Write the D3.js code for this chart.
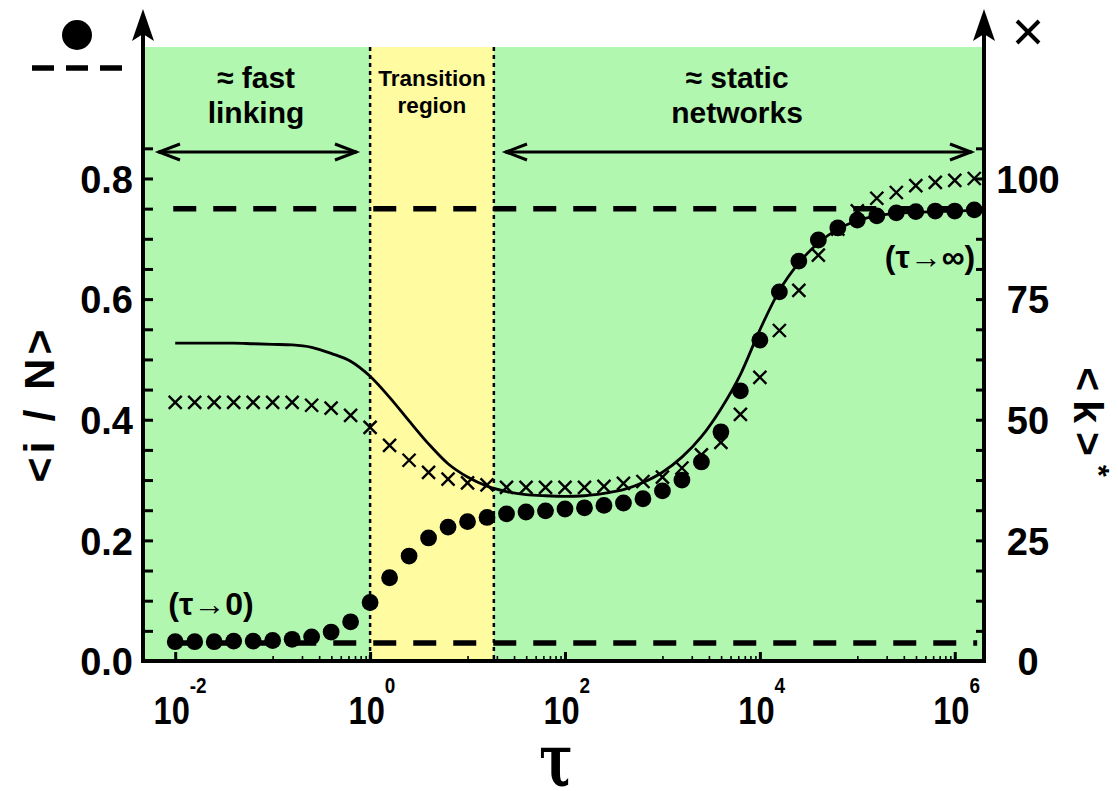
<!DOCTYPE html>
<html>
<head>
<meta charset="utf-8">
<script src="https://cdn.jsdelivr.net/npm/d3@7"></script>
<style>
body { margin: 0; background: #fff; }
text { font-family: "Liberation Sans", Arial, Helvetica, sans-serif; font-weight: bold; fill: #000; }
</style>
</head>
<body>
<div id="chart"></div>
<script>
// tau = 10^exp, sampled every 0.2 decade
const tauExp = [-2, -1.8, -1.6, -1.4, -1.2, -1, -0.8, -0.6, -0.4, -0.2,
    0, 0.2, 0.4, 0.6, 0.8, 1, 1.2, 1.4, 1.6, 1.8,
    2, 2.2, 2.4, 2.6, 2.8, 3, 3.2, 3.4, 3.6, 3.8,
    4, 4.2, 4.4, 4.6, 4.8, 5, 5.2, 5.4, 5.6, 5.8,
    6, 6.2]

// <i/N>  (filled circles, left axis)
const infected = [0.032, 0.032, 0.032, 0.033, 0.033, 0.034, 0.036, 0.040, 0.048, 0.065,
    0.097, 0.138, 0.174, 0.204, 0.222, 0.231, 0.238, 0.244, 0.247, 0.249,
    0.252, 0.254, 0.258, 0.262, 0.269, 0.282, 0.300, 0.330, 0.380, 0.448,
    0.532, 0.612, 0.663, 0.698, 0.718, 0.731, 0.738, 0.743, 0.745, 0.746,
    0.746, 0.748]

// <k>*  (crosses, right axis)
const degree = [53.6, 53.6, 53.6, 53.6, 53.6, 53.6, 53.6, 53.0, 52.4, 50.9,
    48.4, 44.7, 41.6, 39.1, 37.7, 36.9, 36.5, 36.0, 36.0, 36.0,
    36.0, 36.0, 36.2, 36.8, 37.2, 38.1, 40.0, 42.7, 45.3, 51.1,
    58.8, 68.5, 76.8, 84.1, 89.5, 93.3, 95.9, 97.1, 98.5, 99.2,
    99.6, 100.0]

// solid curve (left axis)
const theory = [0.527, 0.527, 0.527, 0.527, 0.526, 0.525, 0.524, 0.520, 0.510, 0.497,
    0.472, 0.437, 0.398, 0.360, 0.327, 0.305, 0.290, 0.281, 0.276, 0.274,
    0.273, 0.274, 0.278, 0.284, 0.296, 0.313, 0.338, 0.372, 0.418, 0.475,
    0.549, 0.614, 0.660, 0.693, 0.716, 0.730, 0.738, 0.742, 0.744, 0.745,
    0.746, 0.747]

// limits tau->0 and tau->inf
const limitLow = 0.030
const limitHigh = 0.75

const leftTicks = [0, 0.2, 0.4, 0.6, 0.8]
const rightTicks = [0, 25, 50, 75, 100]
const decadeLabels = [-2, 0, 2, 4, 6]
const transitionExp = [0, 1.27]

const PLOT = { LEFT: 145, RIGHT: 984, TOP: 47, BOTTOM: 661 }

const svg = d3.select("#chart")
    .append("svg")
    .attr("width", 1118)
    .attr("height", 791)

const x = d3.scaleLog()
    .domain([Math.pow(10, -2.31), Math.pow(10, 6.3)])
    .range([PLOT.LEFT, PLOT.RIGHT])

const y = d3.scaleLinear()
    .domain([0, 1.018])
    .range([PLOT.BOTTOM, PLOT.TOP])

const yK = d3.scaleLinear()
    .domain([0, 1.018 * 125])
    .range([PLOT.BOTTOM, PLOT.TOP])

const data = tauExp.map((e, i) => ({
    tau: Math.pow(10, e), inf: infected[i], k: degree[i], th: theory[i]
}))

// backgrounds
svg.append("rect")
    .attr("x", PLOT.LEFT).attr("y", PLOT.TOP)
    .attr("width", PLOT.RIGHT - PLOT.LEFT)
    .attr("height", PLOT.BOTTOM - PLOT.TOP)
    .style("fill", "#b2f7b0")

const t0 = x(Math.pow(10, transitionExp[0]))
const t1 = x(Math.pow(10, transitionExp[1]))
svg.append("rect")
    .attr("x", t0).attr("y", PLOT.TOP)
    .attr("width", t1 - t0)
    .attr("height", PLOT.BOTTOM - PLOT.TOP)
    .style("fill", "#fffba0")

svg.selectAll(".vdot").data([t0, t1]).enter()
    .append("line")
    .attr("x1", d => d).attr("x2", d => d)
    .attr("y1", PLOT.TOP).attr("y2", PLOT.BOTTOM)
    .style("stroke", "#000").style("stroke-width", 2.5)
    .style("stroke-dasharray", "4,4")

// dashed limits
svg.selectAll(".limit").data([limitLow, limitHigh]).enter()
    .append("line")
    .attr("x1", x(Math.pow(10, -2.02)))
    .attr("x2", x(Math.pow(10, 6.23)))
    .attr("y1", d => y(d)).attr("y2", d => y(d))
    .style("stroke", "#000").style("stroke-width", 5.5)
    .style("stroke-dasharray", "23,17")

// theory curve
const line = d3.line()
    .x(d => x(d.tau))
    .y(d => y(d.th))
    .curve(d3.curveMonotoneX)

svg.append("path")
    .datum(data)
    .attr("d", line)
    .style("fill", "none")
    .style("stroke", "#000")
    .style("stroke-width", 2.8)

// crosses
const cs = 6.5
svg.selectAll(".cross").data(data).enter()
    .append("path")
    .attr("d", d => {
        const cx = x(d.tau), cy = yK(d.k)
        return `M${cx - cs},${cy - cs}L${cx + cs},${cy + cs}M${cx - cs},${cy + cs}L${cx + cs},${cy - cs}`
    })
    .style("stroke", "#000").style("stroke-width", 2.4)

// dots
svg.selectAll(".dot").data(data).enter()
    .append("circle")
    .attr("cx", d => x(d.tau))
    .attr("cy", d => y(d.inf))
    .attr("r", 8.4)
    .style("fill", "#000")

// left axis ticks
const leftAxis = svg.append("g")
    .attr("transform", `translate(${PLOT.LEFT},0)`)
    .call(d3.axisRight(y).tickValues(d3.range(0, 0.851, 0.05)).tickSize(8).tickFormat(""))
leftAxis.select(".domain").remove()
leftAxis.selectAll("line").style("stroke-width", 3)

const leftLabels = svg.append("g")
    .attr("transform", `translate(${PLOT.LEFT},0)`)
    .call(d3.axisLeft(y).tickValues(leftTicks).tickSize(0).tickPadding(12).tickFormat(d3.format(".1f")))
leftLabels.select(".domain").remove()
leftLabels.selectAll("text").attr("font-family", null).style("font-size", "38px")
    .attr("dy", "0.36em")

// right axis ticks
const rightAxis = svg.append("g")
    .attr("transform", `translate(${PLOT.RIGHT},0)`)
    .call(d3.axisLeft(yK).tickValues(d3.range(0, 106.26, 6.25)).tickSize(8).tickFormat(""))
rightAxis.select(".domain").remove()
rightAxis.selectAll("line").style("stroke-width", 3)

const rightLabels = svg.append("g")
    .attr("transform", `translate(${PLOT.RIGHT},0)`)
    .call(d3.axisRight(yK).tickValues(rightTicks).tickSize(0).tickPadding(44))
rightLabels.select(".domain").remove()
rightLabels.selectAll("text").attr("font-family", null).style("font-size", "38px")
    .style("text-anchor", "middle").attr("dy", "0.36em")

// bottom axis ticks (major at even decades, minor in odd decades)
const major = decadeLabels.map(e => Math.pow(10, e))
const minor = []
;[-1, 1, 3, 5].forEach(e => {
    for (let m = 1; m <= 9; m++) minor.push(m * Math.pow(10, e))
})
const bottomMajor = svg.append("g")
    .attr("transform", `translate(0,${PLOT.BOTTOM})`)
    .call(d3.axisTop(x).tickValues(major).tickSize(9).tickFormat(""))
bottomMajor.select(".domain").remove()
bottomMajor.selectAll("line").style("stroke-width", 3)
const bottomMinor = svg.append("g")
    .attr("transform", `translate(0,${PLOT.BOTTOM})`)
    .call(d3.axisTop(x).tickValues(minor).tickSize(5).tickFormat(""))
bottomMinor.select(".domain").remove()
bottomMinor.selectAll("line").style("stroke-width", 1.6)

// decade labels 10^n (condensed)
const dl = svg.selectAll(".dec").data(decadeLabels).enter()
    .append("g")
    .attr("transform", d => `translate(${x(Math.pow(10, d))},0) scale(0.86,1)`)
dl.append("text")
    .attr("x", -4).attr("y", 724)
    .attr("text-anchor", "middle")
    .style("font-size", "38px")
    .text("10")
dl.append("text")
    .attr("x", 17).attr("y", 693)
    .attr("text-anchor", "start")
    .style("font-size", "22px")
    .text(d => d)

// axis lines with arrows
svg.append("path")
    .attr("d", `M${PLOT.LEFT - 2},30 V${PLOT.BOTTOM} H${PLOT.RIGHT} V30`)
    .style("stroke", "#000").style("stroke-width", 4).style("fill", "none")
;[PLOT.LEFT - 2, PLOT.RIGHT].forEach(ax => {
    svg.append("path")
        .attr("d", `M${ax},9 L${ax - 11},41 L${ax},34 L${ax + 11},41 Z`)
        .style("fill", "#000")
})

// region arrows
function hArrow(xa, xb, yy) {
    svg.append("line").attr("x1", xa).attr("x2", xb).attr("y1", yy).attr("y2", yy)
        .style("stroke", "#000").style("stroke-width", 3)
    svg.append("path")
        .attr("d", `M${xa + 22},${yy - 8}L${xa + 1},${yy}L${xa + 22},${yy + 8}M${xb - 22},${yy - 8}L${xb - 1},${yy}L${xb - 22},${yy + 8}`)
        .style("stroke", "#000").style("stroke-width", 3).style("fill", "none")
}
hArrow(158, 357, 152)
hArrow(505, 972, 152)

// region texts
const label = (tx, ty, s, size) => svg.append("text")
    .attr("x", tx).attr("y", ty)
    .attr("text-anchor", "middle")
    .style("font-size", size + "px")
    .text(s)
label(256, 88, "≈ fast", 30)
label(256, 123, "linking", 30)
label(432, 86, "Transition", 22.5)
label(432, 113, "region", 22.5)
label(737, 88, "≈ static", 30)
label(737, 123, "networks", 30)
label(211, 615, "(τ→0)", 32)
label(930, 268, "(τ→∞)", 32)

// axis titles
svg.append("text")
    .attr("transform", "translate(556,786) scale(1,1.45)")
    .attr("text-anchor", "middle")
    .style("font-family", "'DejaVu Serif', 'Liberation Serif', serif")
    .style("font-size", "50px")
    .text("τ")

svg.append("text")
    .attr("transform", "translate(54,404) rotate(-90)")
    .attr("text-anchor", "middle")
    .style("font-size", "43px")
    .style("letter-spacing", "4px")
    .text("<i / N>")

const kt = svg.append("text")
    .attr("transform", "translate(1074,422) rotate(90)")
    .attr("text-anchor", "middle")
    .style("font-size", "41px")
    .style("letter-spacing", "9px")
kt.append("tspan").text("<k>")
kt.append("tspan").attr("dy", -15).style("font-size", "30px").style("letter-spacing", "0px").text("*")

// legend symbols
svg.append("circle").attr("cx", 77).attr("cy", 35).attr("r", 15).style("fill", "#000")
svg.append("line")
    .attr("x1", 32).attr("x2", 122).attr("y1", 68).attr("y2", 68)
    .style("stroke", "#000").style("stroke-width", 5.5)
    .style("stroke-dasharray", "22,12")
svg.append("path")
    .attr("d", "M1017,21L1039,43M1017,43L1039,21")
    .style("stroke", "#000").style("stroke-width", 4)
</script>
</body>
</html>
